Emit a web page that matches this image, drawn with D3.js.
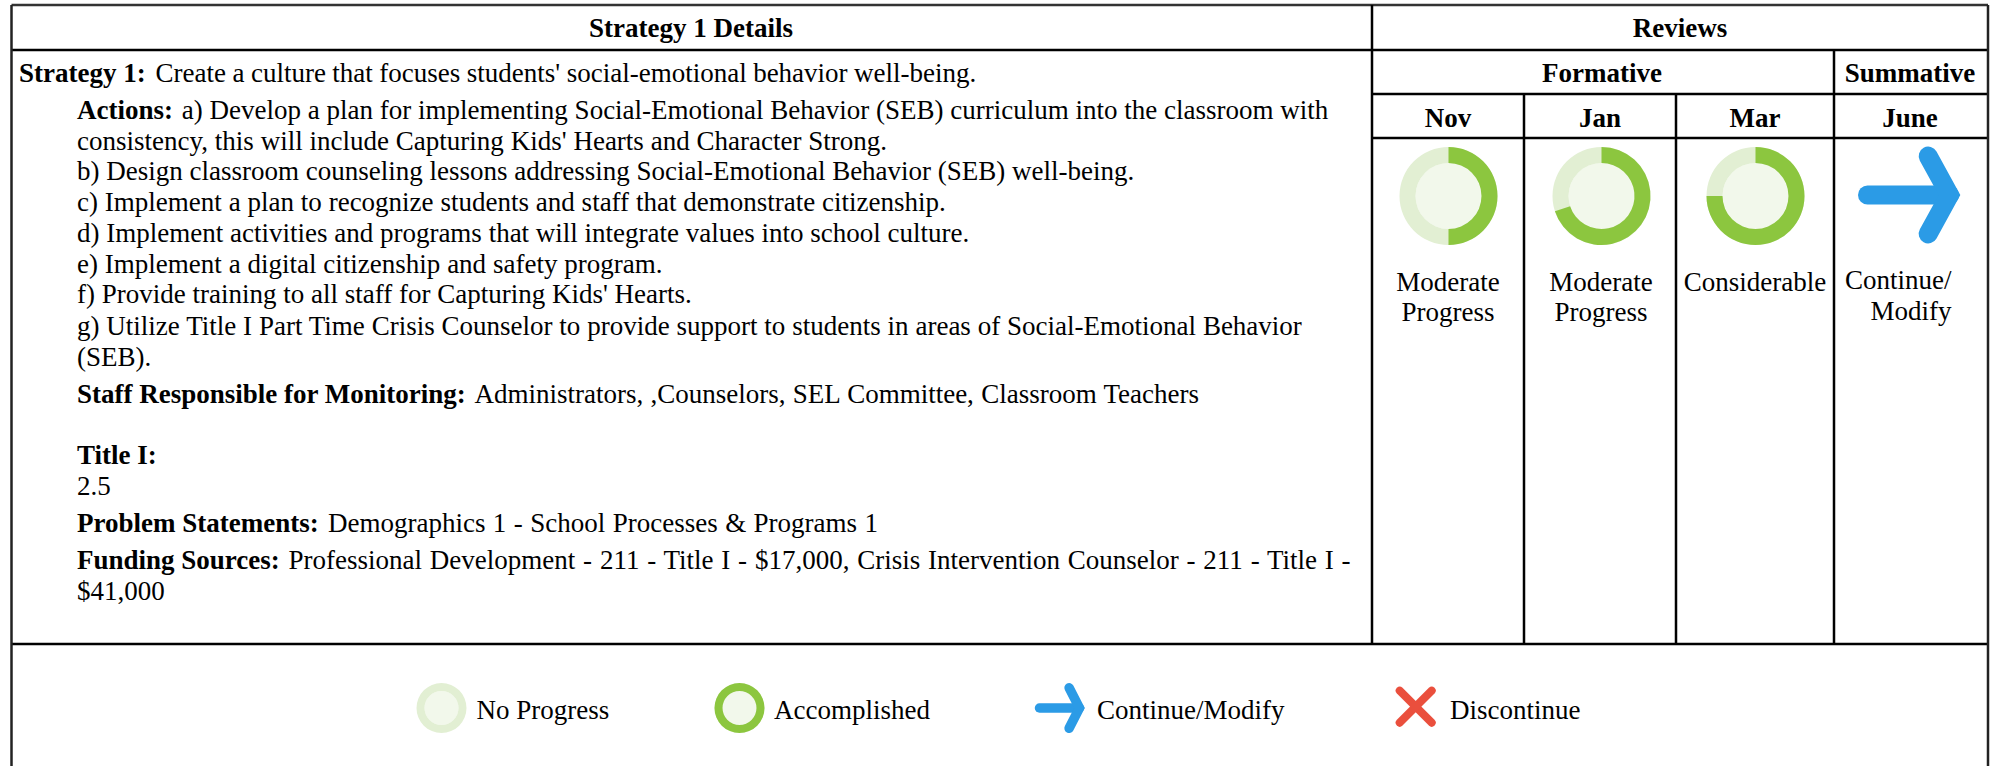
<!DOCTYPE html>
<html>
<head>
<meta charset="utf-8">
<script src="https://cdn.jsdelivr.net/npm/d3@7"></script>
<style>
  html, body { margin: 0; padding: 0; background: #fff; overflow: hidden; }
  text { font-family: "Liberation Serif", serif; font-size: 27px; fill: #000; }
  .b { font-weight: bold; }
</style>
</head>
<body>
<div id="svgcontainer"></div>
<script>
// values
var months = ["Nov", "Jan", "Mar", "June"];
var progress = [0.5, 0.7, 0.75];
var progressLabels = [["Moderate", "Progress"], ["Moderate", "Progress"], ["Considerable"]];
var arrowLabel = ["Continue/", "Modify"];
var legendLabels = ["No Progress", "Accomplished", "Continue/Modify", "Discontinue"];
var bodyBold = ["Strategy 1:", "Actions:", "", "", "", "", "", "", "", "", "Staff Responsible for Monitoring:", "Title I:", "", "Problem Statements:", "Funding Sources:", ""];
var bodyText = [
  "Create a culture that focuses students' social-emotional behavior well-being.",
  "a) Develop a plan for implementing Social-Emotional Behavior (SEB) curriculum into the classroom with",
  "consistency, this will include Capturing Kids' Hearts and Character Strong.",
  "b) Design classroom counseling lessons addressing Social-Emotional Behavior (SEB) well-being.",
  "c) Implement a plan to recognize students and staff that demonstrate citizenship.",
  "d) Implement activities and programs that will integrate values into school culture.",
  "e) Implement a digital citizenship and safety program.",
  "f) Provide training to all staff for Capturing Kids' Hearts.",
  "g) Utilize Title I Part Time Crisis Counselor to provide support to students in areas of Social-Emotional Behavior",
  "(SEB).",
  "Administrators, ,Counselors, SEL Committee, Classroom Teachers",
  "",
  "2.5",
  "Demographics 1 - School Processes & Programs 1",
  "Professional Development - 211 - Title I - $17,000, Crisis Intervention Counselor - 211 - Title I -",
  "$41,000"
];

var width = 1997, height = 766;
var green = "#8cc63f", pale = "#e2efd3", centre = "#f2f8eb", blue = "#2b9be6", red = "#ea4f3d";

var left = 11.5, right = 1988, split = 1372;
var colX = [1372, 1524, 1676, 1834, 1988];
var rowY = [5, 50, 94, 138, 644];
var bodyY = [81.5, 119, 149.7, 180.4, 211, 241.7, 272.7, 303.4, 335, 366, 403, 464, 495, 532, 568.5, 599.5];
// the source pdf sets some lines with looser spaces
var bodyGap = [3, 2, 0, 0, 0, 0, 0, 0, 0, 0, 2, 0, 0, 2.5, 2, 0];
var bodySpacing = [-0.25, 0, 0.1, 0, 0.1, 0, 0.1, 0, 0.1, 0, 0.55, 0, 0, 0.7, 1.05, 0];

var svg = d3.select("#svgcontainer").append("svg")
    .attr("width", width)
    .attr("height", height)
    .style("display", "block");

function rule(x1, y1, x2, y2, w, c) {
  svg.append("line")
      .attr("x1", x1).attr("y1", y1).attr("x2", x2).attr("y2", y2)
      .attr("stroke", c || "#000").attr("stroke-width", w);
}

// table rules
rule(left, 5, right, 5, 2.5, "#333");
rule(left, rowY[1], right, rowY[1], 2.5);
rule(split, rowY[2], right, rowY[2], 2.5);
rule(split, rowY[3], right, rowY[3], 2.5);
rule(left, rowY[4], right, rowY[4], 2.5);
rule(left, 5, left, height, 2.5, "#222");
rule(right, 5, right, height, 2.5, "#222");
rule(split, 5, split, rowY[4], 2.5);
rule(colX[3], rowY[1], colX[3], rowY[4], 2.5);
rule(colX[1], rowY[2], colX[1], rowY[4], 2.5);
rule(colX[2], rowY[2], colX[2], rowY[4], 2.5);

function label(x, y, s, anchor, bold) {
  return svg.append("text")
      .attr("x", x).attr("y", y)
      .attr("text-anchor", anchor)
      .attr("class", bold ? "b" : null)
      .text(s);
}

// header cells
label(691, 36.5, "Strategy 1 Details", "middle", true);
label((split + right) / 2, 36.5, "Reviews", "middle", true);
label((colX[0] + colX[3]) / 2 - 1, 81.5, "Formative", "middle", true);
label((colX[3] + right) / 2 - 1, 81.5, "Summative", "middle", true);
svg.selectAll("text.month")
    .data(months)
  .enter().append("text")
    .attr("class", "month b")
    .attr("text-anchor", "middle")
    .attr("x", function(d, i) { return (colX[i] + colX[i + 1]) / 2 - (i == 3 ? 1 : 0); })
    .attr("y", 126.5)
    .text(function(d) { return d; });

// body text
var body = svg.selectAll("text.body")
    .data(bodyText)
  .enter().append("text")
    .attr("class", "body")
    .attr("x", function(d, i) { return i == 0 ? 19 : 77; })
    .attr("y", function(d, i) { return bodyY[i]; });
body.append("tspan")
    .attr("class", "b")
    .text(function(d, i) { return bodyBold[i] ? bodyBold[i] + "\u00a0" : ""; });
body.append("tspan")
    .attr("dx", function(d, i) { return bodyGap[i]; })
    .style("word-spacing", function(d, i) { return bodySpacing[i] + "px"; })
    .text(function(d) { return d; });

// progress rings
var angle = d3.scaleLinear().domain([0, 1]).range([0, 2 * Math.PI]);

function ring(x, y, r, r0, value, colour) {
  var arc = d3.arc().innerRadius(r0).outerRadius(r);
  var g = svg.append("g").attr("transform", "translate(" + x + "," + y + ")");
  g.append("circle").attr("r", r0).attr("fill", centre);
  g.append("path")
      .attr("fill", pale)
      .attr("d", arc({startAngle: 0, endAngle: 2 * Math.PI}));
  g.append("path")
      .attr("fill", colour)
      .attr("d", arc({startAngle: 0, endAngle: angle(value)}));
}

var ringX = [1448.5, 1601.5, 1755.5];
progress.forEach(function(p, i) {
  ring(ringX[i], 196, 49, 33, p, green);
  progressLabels[i].forEach(function(s, j) {
    label(ringX[i] - 0.5, 291 + j * 30, s, "middle", false);
  });
});

// arrow glyph, drawn at unit size then scaled
var arrowLine = d3.line();
var arrowShaft = [[-1, 0], [1, 0]];
var arrowHead = [[0.48, -0.81], [1, 0], [0.48, 0.81]];

function arrow(x, y, sx, sy, w) {
  var g = svg.append("g")
      .attr("fill", "none")
      .attr("stroke", blue)
      .attr("stroke-width", w)
      .attr("stroke-linecap", "round")
      .attr("stroke-linejoin", "miter")
      .attr("transform", "translate(" + x + "," + y + ")");
  var pts = function(a) { return a.map(function(p) { return [p[0] * sx, p[1] * sy]; }); };
  g.append("path").attr("d", arrowLine(pts(arrowShaft)));
  g.append("path").attr("d", arrowLine(pts(arrowHead)));
}

arrow(1908.5, 195, 41, 48, 19);
label(1845, 289, arrowLabel[0], "start", false);
label(1951.5, 319.5, arrowLabel[1], "end", false);

// legend
ring(441.5, 708, 25, 17, 0, green);
ring(739.5, 708, 25, 17, 1, green);
arrow(1059.5, 708, 20, 25, 9.5);

var cross = svg.append("g")
    .attr("stroke", red)
    .attr("stroke-width", 8)
    .attr("stroke-linecap", "round")
    .attr("transform", "translate(1415.7,706.7)");
[[-1, -1, 1, 1], [-1, 1, 1, -1]].forEach(function(c) {
  cross.append("line")
      .attr("x1", c[0] * 16).attr("y1", c[1] * 16)
      .attr("x2", c[2] * 16).attr("y2", c[3] * 16);
});

var legendX = [476.5, 774, 1097, 1450];
legendLabels.forEach(function(s, i) {
  label(legendX[i], 719, s, "start", false);
});
</script>
</body>
</html>
